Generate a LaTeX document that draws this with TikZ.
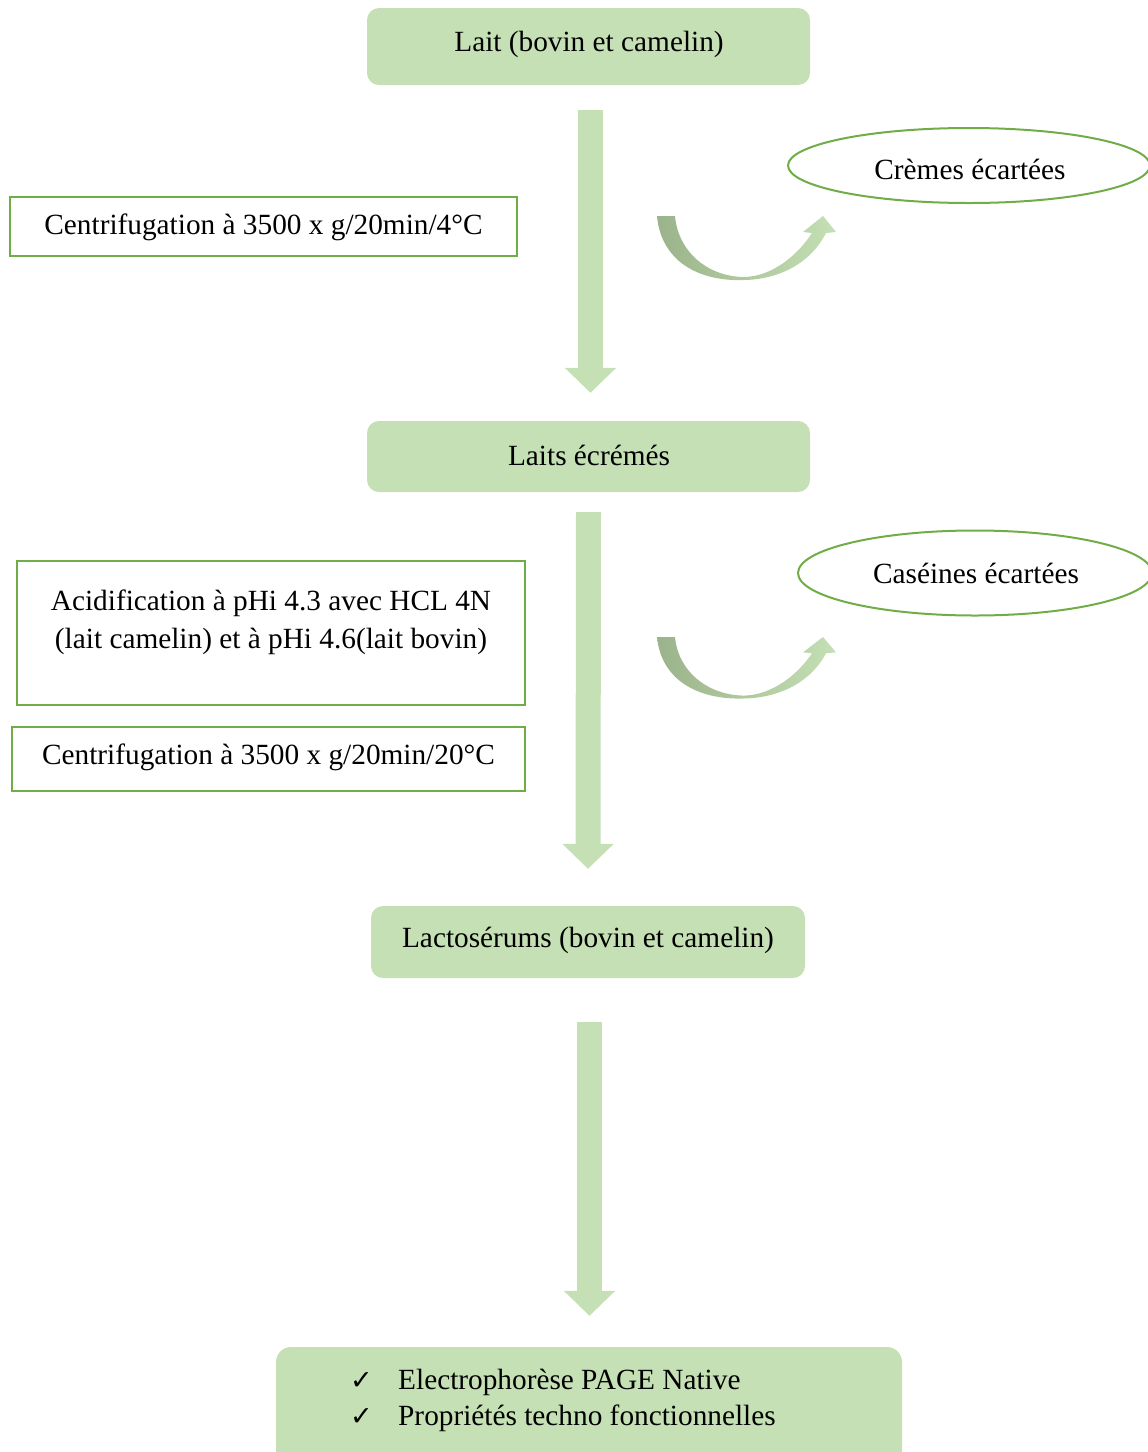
\documentclass[tikz,border=0pt]{standalone}
\usepackage{fontspec}
\setmainfont{Liberation Serif}
\newfontfamily\dejavu{DejaVu Sans}
\usetikzlibrary{arrows.meta,shapes.geometric,calc}
\definecolor{boxgreen}{HTML}{C5E0B4}
\definecolor{linegreen}{HTML}{70AD47}
\definecolor{darkarrow}{HTML}{9BB38A}
\newcommand{\chk}{\makebox[48pt][l]{\dejavu\fontsize{27}{36}\selectfont ✓}}
\begin{document}
\begin{tikzpicture}[x=1pt,y=-1pt,
  font=\fontsize{29.3}{38}\selectfont,
  greenbox/.style={rectangle, rounded corners=12pt, fill=boxgreen, draw=none, inner sep=0pt},
  outlinebox/.style={rectangle, draw=linegreen, line width=2.5pt, inner sep=0pt, fill=white},
  oval/.style={ellipse, draw=linegreen, line width=2pt, inner sep=0pt, fill=white},
  bigarrow/.style={draw=boxgreen, line width=25pt, -{Triangle[length=25pt,width=50pt]}},
  curvearr/.pic={
    \shade[left color=darkarrow, right color=boxgreen]
      (0,0) .. controls (4,44) and (40,66) .. (88,64)
      .. controls (125,63) and (155,45) .. (169,17)
      -- (179,16) -- (166,0) -- (146,16) -- (155,17)
      .. controls (140,40) and (115,60) .. (88,61)
      .. controls (50,61) and (21,35) .. (18,0) -- cycle;
  }]
\useasboundingbox (0,0) rectangle (1148,1452);
\clip (0,0) rectangle (1148,1452);

% main boxes
\node[greenbox, minimum width=443pt, minimum height=77pt] (b1) at (588.5,46.5) {};
\node (t1) at (589,44) {Lait (bovin et camelin)};
\node[greenbox, minimum width=443pt, minimum height=71pt] (b2) at (588.5,456.5) {};
\node (t2) at (589,455) {Laits écrémés};
\node[greenbox, minimum width=434pt, minimum height=72pt] (b3) at (588,942) {};
\node (t3) at (588,940) {Lactosérums (bovin et camelin)};
\node[greenbox, rounded corners=15pt, minimum width=626pt, minimum height=130pt] (b4) at (589,1412) {};
\node[anchor=west, align=left, inner sep=0pt, font=\fontsize{29.3}{36}\selectfont] (t4) at (350,1400)
  {\chk Electrophorèse PAGE Native\\ \chk Propriétés techno fonctionnelles};

% side boxes
\node[outlinebox, minimum width=507pt, minimum height=59pt] (r1) at (263.5,226.5) {};
\node (s1) at (263.5,227) {Centrifugation à 3500 x g/20min/4°C};
\node[outlinebox, minimum width=508pt, minimum height=144pt] (r2) at (271,633) {};
\node[align=center] (s2) at (271,622) {Acidification à pHi 4.3 avec HCL 4N\\(lait camelin) et à pHi 4.6(lait bovin)};
\node[outlinebox, minimum width=513pt, minimum height=64pt] (r3) at (268.5,759) {};
\node (s3) at (268.5,757) {Centrifugation à 3500 x g/20min/20°C};

% ellipses
\node[oval, minimum width=362pt, minimum height=75pt] (e1) at (969,165.5) {};
\node (et1) at (970,169) {Crèmes écartées};
\node[oval, minimum width=354pt, minimum height=85pt] (e2) at (975,573) {};
\node (et2) at (976,573) {Caséines écartées};

% vertical arrows
\draw[bigarrow] ($(b1.south)+(2,25)$) -- ($(b2.north)+(2,-28)$);
\draw[bigarrow] ($(b2.south)+(0,20)$) -- ($(b3.north)+(0,-37)$);
\draw[bigarrow] ($(b3.south)+(1.5,44)$) -- ($(b4.north)+(0.5,-31)$);

% curved arrows
\coordinate (c1) at (657,216);
\coordinate (c2) at (657,637);
\pic at (c1) {curvearr};
\pic[yscale=0.96] at (c2) {curvearr};
\end{tikzpicture}
\end{document}
